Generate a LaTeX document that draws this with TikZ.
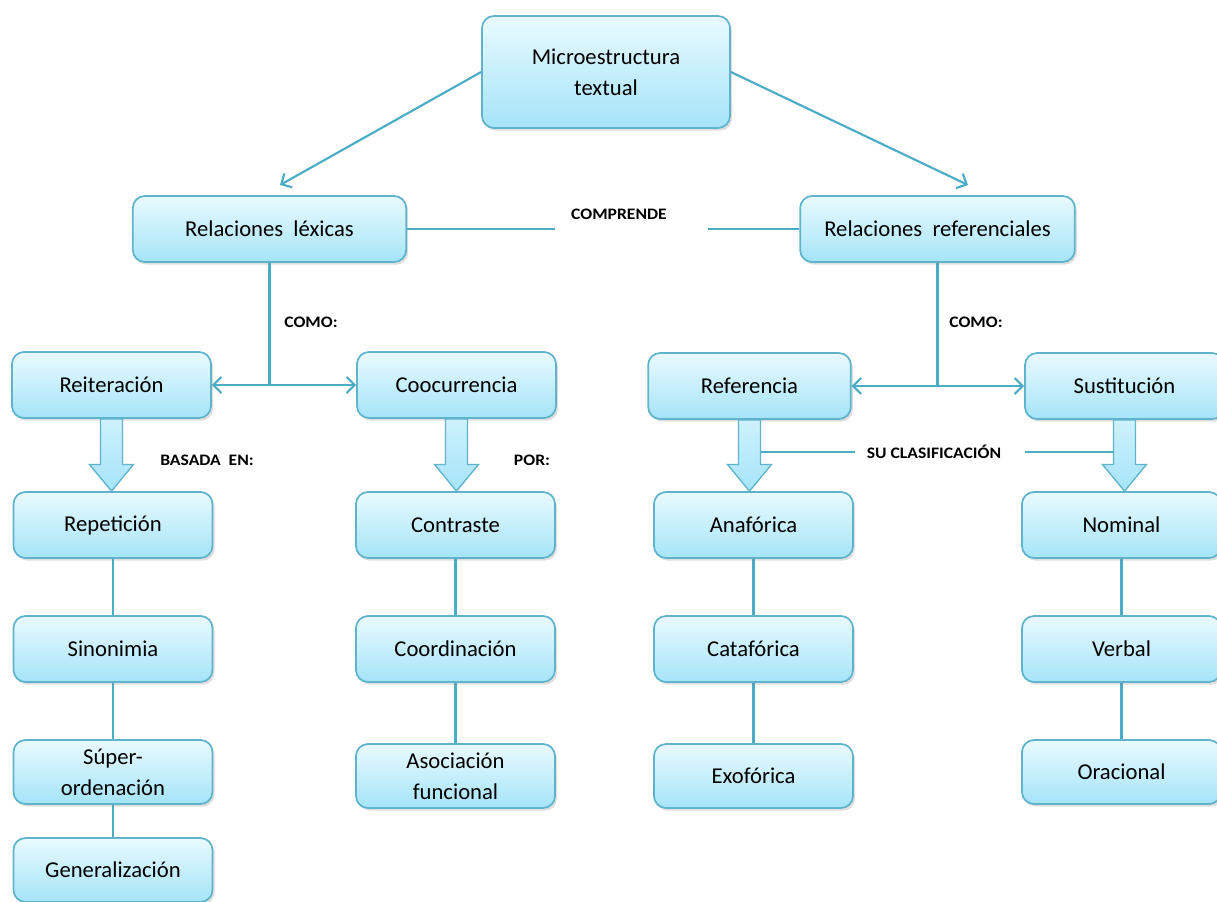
\documentclass[tikz,border=0pt]{standalone}
\usepackage{fontspec}
\setmainfont{Carlito}
\usetikzlibrary{arrows.meta,shadows,calc,backgrounds}
\definecolor{boxtop}{HTML}{E9FAFF}
\definecolor{boxbot}{HTML}{A5E4F8}
\definecolor{boxline}{HTML}{5FB3CB}
\definecolor{conn}{HTML}{4BACC6}
\tikzset{
  box/.style={draw=boxline, line width=1.3pt, rounded corners=9pt,
    top color=boxtop, bottom color=boxbot, align=center,
    minimum width=149.25pt, minimum height=49.5pt, inner sep=2pt,
    font=\fontsize{17}{23}\selectfont,
    drop shadow={opacity=0.25, shadow xshift=1.5pt, shadow yshift=-2pt}},
  conn/.style={draw=conn, line width=1.6pt},
  carrow/.style={conn, -{Straight Barb[length=6pt,width=12pt,line width=1.6pt]}},
  blk/.style={draw=boxline, line width=1pt, top color=boxtop!60!boxbot, bottom color=boxbot},
  lbl/.style={font=\fontsize{12}{14}\selectfont\bfseries, inner sep=1pt}
}
\newcommand{\lab}[1]{\scalebox{1.1}[1]{#1}}
\newcommand{\blkarrow}[2]{%
  \path[blk] let \p1=(#1.south), \p2=(#2.north) in
   (\x1-8.25pt,\y1) -- (\x1-8.25pt,\y2+20pt) -- (\x1-16.5pt,\y2+20pt) -- (\x1,\y2)
   -- (\x1+16.5pt,\y2+20pt) -- (\x1+8.25pt,\y2+20pt) -- (\x1+8.25pt,\y1) -- cycle;}
\begin{document}
\begin{tikzpicture}[x=0.75pt,y=-0.75pt]
\useasboundingbox (0,0) rectangle (1217,901);
\clip (0,0) rectangle (1217,901);

\node[box, minimum width=186pt, minimum height=84pt] (micro) at (606,72) {Microestructura\\textual};
\node[box, minimum width=205pt] (rl) at (269.5,229) {Relaciones\ \ léxicas};
\node[box, minimum width=206pt] (rr) at (937.5,229) {Relaciones\ \ referenciales};
\node[box] (rei) at (111.5,385) {Reiteración};
\node[box] (coo) at (456.5,385) {Coocurrencia};
\node[box, minimum width=152pt] (ref) at (749.5,386) {Referencia};
\node[box] (sus) at (1124.5,386) {Sustitución};
\node[box] (rep) at (113,525) {Repetición};
\node[box] (con) at (455.5,525) {Contraste};
\node[box] (ana) at (753.5,525) {Anafórica};
\node[box] (nom) at (1121.5,525) {Nominal};
\node[box] (sin) at (113,649) {Sinonimia};
\node[box] (coord) at (455.5,649) {Coordinación};
\node[box] (cat) at (753.5,649) {Catafórica};
\node[box] (ver) at (1121.5,649) {Verbal};
\node[box, minimum height=48pt] (sup) at (113,772) {Súper-\\ordenación};
\node[box, minimum height=48pt] (aso) at (455.5,776) {Asociación\\funcional};
\node[box, minimum height=48pt] (exo) at (753.5,776) {Exofórica};
\node[box, minimum height=48pt] (ora) at (1121.5,772) {Oracional};
\node[box, minimum height=48pt] (gen) at (113,870) {Generalización};

\node[lbl] (comp) at (619,214) {\lab{COMPRENDE}};
\node[lbl] (como1) at (311,322) {\lab{COMO:}};
\node[lbl] (como2) at (976,322) {\lab{COMO:}};
\node[lbl] (bas) at (207,460) {\lab{BASADA\ \ EN:}};
\node[lbl] (por) at (532,460) {\lab{POR:}};
\node[lbl] (clas) at (934,452) {\lab{SU CLASIFICACIÓN}};

\coordinate (ml) at (280,185);
\coordinate (mr) at (968,185);
\coordinate (c1) at (555,229);
\coordinate (c2) at (708,229);
\coordinate (j1) at (rl.south |- rei.east);
\coordinate (j2) at (rr.south |- ref.east);
\coordinate (s2) at (855,452);
\coordinate (s3) at (1025,452);
\coordinate (s1) at ($(ref.south |- s2)+(11,0)$);
\coordinate (s4) at ($(sus.south |- s3)+(-11,0)$);

\begin{scope}[on background layer]
\draw[carrow] (micro.west) -- (ml);
\draw[carrow] (micro.east) -- (mr);
\draw[conn] (rl.east) -- (c1);
\draw[conn] (c2) -- (rr.west);
\draw[conn] (rl.south) -- (j1);
\draw[carrow] (j1) -- (rei.east);
\draw[carrow] (j1) -- (coo.west);
\draw[conn] (rr.south) -- (j2);
\draw[carrow] (j2) -- (ref.east);
\draw[carrow] (j2) -- (sus.west);
\draw[conn] (rep) -- (sin);
\draw[conn] (sin) -- (sup);
\draw[conn] (sup) -- (gen);
\draw[conn] (con) -- (coord);
\draw[conn] (coord) -- (aso);
\draw[conn] (ana) -- (cat);
\draw[conn] (cat) -- (exo);
\draw[conn] (nom) -- (ver);
\draw[conn] (ver) -- (ora);
\end{scope}

\blkarrow{rei}{rep}
\blkarrow{coo}{con}
\blkarrow{ref}{ana}
\blkarrow{sus}{nom}
\draw[conn] (s1) -- (s2);
\draw[conn] (s3) -- (s4);
\end{tikzpicture}
\end{document}
